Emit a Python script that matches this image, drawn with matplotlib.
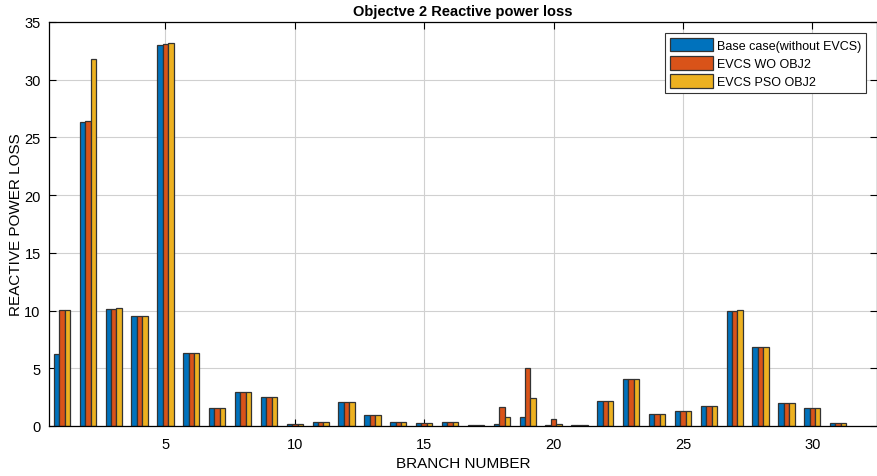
import matplotlib.pyplot as plt
import numpy as np

plt.rcParams['font.family'] = ['Liberation Sans', 'DejaVu Sans']

# reactive power loss per branch
branch = np.arange(1, 32)
base = [6.22, 26.37, 10.12, 9.51, 33.02, 6.31, 1.59, 2.98, 2.49, 0.20,
        0.35, 2.12, 0.98, 0.35, 0.25, 0.35, 0.05, 0.15, 0.80, 0.10,
        0.05, 2.17, 4.07, 1.02, 1.33, 1.72, 9.95, 6.85, 2.00, 1.60, 0.28]
wo_obj2 = [10.03, 26.40, 10.12, 9.51, 33.10, 6.31, 1.59, 2.98, 2.49, 0.20,
           0.35, 2.12, 0.98, 0.35, 0.25, 0.35, 0.05, 1.63, 5.05, 0.60,
           0.05, 2.17, 4.07, 1.02, 1.33, 1.72, 9.98, 6.85, 2.00, 1.60, 0.28]
pso_obj2 = [10.06, 31.78, 10.18, 9.55, 33.18, 6.35, 1.59, 2.98, 2.49, 0.20,
            0.35, 2.12, 0.98, 0.35, 0.25, 0.35, 0.05, 0.77, 2.39, 0.13,
            0.05, 2.17, 4.08, 1.02, 1.34, 1.72, 10.02, 6.87, 2.00, 1.60, 0.28]

labels = ['Base case(without EVCS)', 'EVCS WO OBJ2', 'EVCS PSO OBJ2']
colors = ['#0072BD', '#D95319', '#EDB120']

fig = plt.figure(figsize=(8.78, 4.77), dpi=100)
ax = fig.add_axes([49/878, 1-427/477, 828/878, 404/477])

w = 0.21
for k, (vals, c, lab) in enumerate(zip([base, wo_obj2, pso_obj2], colors, labels)):
    ax.bar(branch + (k-1)*w, vals, width=w, color=c, edgecolor='#333333',
           linewidth=0.9, label=lab, zorder=3)

ax.set_xlim(0.5, 32.5)
ax.set_ylim(0, 35)
ax.set_xticks([5, 10, 15, 20, 25, 30])
ax.set_yticks(range(0, 36, 5))
ax.grid(True, color='#d0d0d0', linewidth=0.8, zorder=0)
ax.tick_params(direction='in', top=True, right=True, labelsize=10.5, length=5, width=0.8)
ax.tick_params(axis='x', pad=8)
ax.tick_params(axis='y', pad=6)
for s in ax.spines.values():
    s.set_linewidth(0.9)
    s.set_zorder(5)

ax.set_title('Objectve 2 Reactive power loss', fontsize=10.5, fontweight='bold', pad=5)
ax.set_xlabel('BRANCH NUMBER', fontsize=11)
ax.set_ylabel('REACTIVE POWER LOSS', fontsize=11)
ax.xaxis.set_label_coords(0.5, -0.074)
ax.yaxis.set_label_coords(-0.031, 0.5)

leg = ax.legend(loc='upper right', fontsize=9, fancybox=False, edgecolor='#333333',
                framealpha=1, handlelength=3.5, handleheight=1.3, borderaxespad=0.9,
                labelspacing=0.35, handletextpad=0.3, borderpad=0.35)
leg.get_frame().set_linewidth(0.8)

plt.savefig('out.png', dpi=100)
